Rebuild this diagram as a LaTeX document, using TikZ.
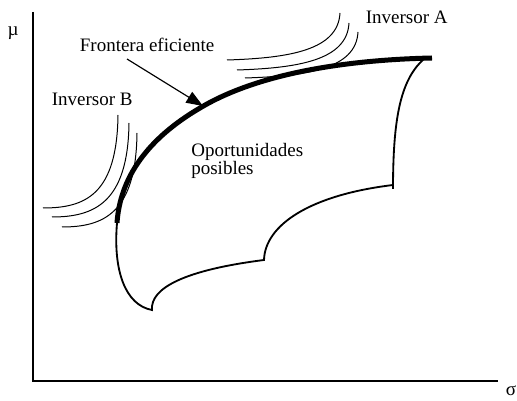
\documentclass[tikz,border=0pt]{standalone}
\usepackage{fontspec}
\setmainfont{Liberation Serif}
\usetikzlibrary{arrows.meta}
\begin{document}
\begin{tikzpicture}[x=0.6pt,y=-0.6pt,font=\fontsize{11.4}{10.5}\selectfont]
			\useasboundingbox (0,0) rectangle (517,401);
			% ejes
			\draw[line width=1.2pt] (33,12) -- (33,381) -- (498,381);
			\node (mu) at (13,33) {µ};
			\node (sigma) at (511,391) {σ};
			% conjunto de oportunidades
			\draw[line width=1.1pt] (117,223) .. controls (113,270) and (125,305) .. (152,310)
				.. controls (150,288) and (185,270) .. (264,260)
				.. controls (265,225) and (310,195) .. (393,185);
			\draw[line width=1.1pt] (393,189) .. controls (393,120) and (400,80) .. (424,59);
			% frontera eficiente
			\draw[line width=3pt] (117,223) .. controls (120,178) and (147,139) .. (200,108)
				.. controls (255,75) and (340,60) .. (432,58);
			% curvas de indiferencia
			\draw[line width=0.6pt] (118,115) .. controls (117,195) and (85,208) .. (43,208);
			\draw[line width=0.6pt] (129,123) .. controls (128,203) and (94,217) .. (52,217);
			\draw[line width=0.6pt] (137,133) .. controls (136,213) and (104,227) .. (62,227);
			\draw[line width=0.6pt] (340,13) .. controls (338,50) and (290,58) .. (227,60);
			\draw[line width=0.6pt] (349,23) .. controls (347,60) and (299,68) .. (237,70);
			\draw[line width=0.6pt] (358,32) .. controls (356,69) and (307,76) .. (245,78);
			% textos
			\node (invB) at (46,106) [anchor=base west] {Inversor B};
			\node (invA) at (360,24) [anchor=base west] {Inversor A};
			\node (front) at (74,52) [anchor=base west] {Frontera eficiente};
			\node (oport) at (191,143) [anchor=north west, align=left, inner sep=0pt] {Oportunidades\\posibles};
			\coordinate (ftip) at (203,106);
			\draw[line width=0.7pt, -{Triangle[length=10pt,width=7.5pt]}] (127,59) -- (ftip);
		\end{tikzpicture}
\end{document}
